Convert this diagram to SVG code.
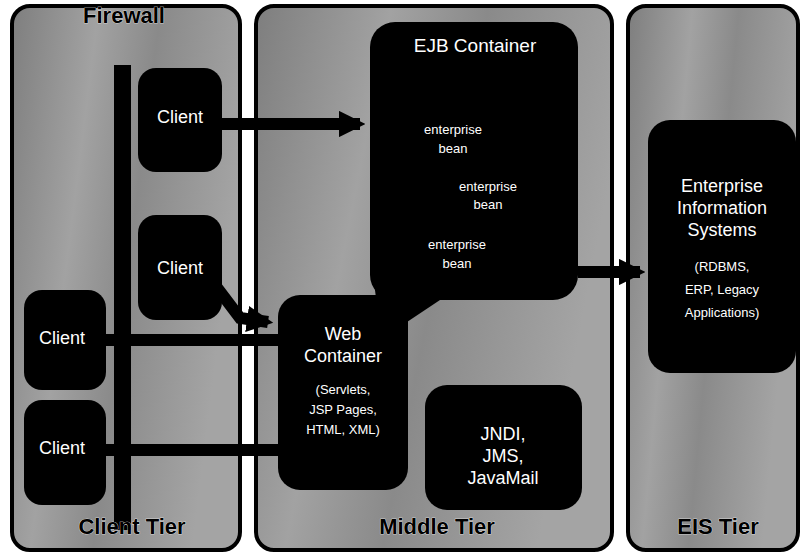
<svg xmlns="http://www.w3.org/2000/svg" width="802" height="556" viewBox="0 0 802 556">
<defs>
<linearGradient id="g1" x1="0" y1="0" x2="1" y2="0.3">
<stop offset="0" stop-color="#7e7e7e"/><stop offset="0.35" stop-color="#a2a2a2"/><stop offset="0.6" stop-color="#8a8a8a"/><stop offset="1" stop-color="#a4a4a4"/>
</linearGradient>
<marker id="ah" viewBox="0 0 10 10" refX="8" refY="5" markerWidth="2.2" markerHeight="2.2" orient="auto" markerUnits="strokeWidth">
<path d="M0,0 L10,5 L0,10 z" fill="#000"/>
</marker>
</defs>
<style>
.panel{fill:url(#g1);stroke:#000;stroke-width:4}
.box{fill:#000}
.t{font-family:"Liberation Sans",Arial,sans-serif;fill:#fff;text-anchor:middle}
.big{font-size:18px}
.sm{font-size:13px}
.lbl{font-family:"Liberation Sans",Arial,sans-serif;font-weight:bold;fill:#000;text-anchor:middle;font-size:22px;stroke:#fff;stroke-width:0.6;paint-order:stroke}
.conn{stroke:#000;stroke-width:12;fill:none}
</style>
<rect width="802" height="556" fill="#fff"/>
<g id="client-tier">
<rect class="panel" x="12" y="6" width="228" height="544" rx="18"/>
<text class="lbl" x="124" y="23" font-size="17">Firewall</text>
<rect id="firewall" x="114" y="65" width="17" height="465" fill="#000"/>
<text class="lbl" x="132" y="534">Client Tier</text>
</g>
<g id="middle-tier">
<rect class="panel" x="256" y="6" width="356" height="544" rx="18"/>
<text class="lbl" x="437" y="534">Middle Tier</text>
</g>
<g id="eis-tier">
<rect class="panel" x="628" y="6" width="170" height="544" rx="18"/>
<text class="lbl" x="718" y="534">EIS Tier</text>
</g>
<g id="connectors">
<line class="conn" x1="222" y1="124" x2="360" y2="124" marker-end="url(#ah)"/>
<polyline class="conn" points="215,285 240,318 268,322" marker-end="url(#ah)"/>
<line class="conn" x1="105" y1="340" x2="278" y2="340"/>
<line class="conn" x1="105" y1="450" x2="278" y2="450"/>
<polygon points="375,290 410,290 440,300 395,330 380,330" fill="#000"/>
<line class="conn" x1="578" y1="272" x2="640" y2="272" marker-end="url(#ah)"/>
</g>
<g id="client1"><rect class="box" x="138" y="68" width="84" height="104" rx="18"/><text class="t big" x="180" y="123">Client</text></g>
<g id="client2"><rect class="box" x="138" y="215" width="84" height="105" rx="18"/><text class="t big" x="180" y="274">Client</text></g>
<g id="client3"><rect class="box" x="24" y="290" width="82" height="100" rx="18"/><text class="t big" x="62" y="344">Client</text></g>
<g id="client4"><rect class="box" x="24" y="400" width="82" height="105" rx="18"/><text class="t big" x="62" y="454">Client</text></g>
<g id="ejb">
<rect class="box" x="370" y="22" width="208" height="278" rx="25"/>
<text class="t" x="475" y="52" font-size="19">EJB Container</text>
<text class="t sm" x="453" y="134">enterprise</text><text class="t sm" x="453" y="153">bean</text>
<text class="t sm" x="488" y="191">enterprise</text><text class="t sm" x="488" y="209">bean</text>
<text class="t sm" x="457" y="249">enterprise</text><text class="t sm" x="457" y="268">bean</text>
</g>
<g id="web">
<rect class="box" x="278" y="295" width="130" height="195" rx="22"/>
<text class="t big" x="343" y="340">Web</text>
<text class="t big" x="343" y="362">Container</text>
<text class="t sm" x="343" y="394">(Servlets,</text>
<text class="t sm" x="343" y="414">JSP Pages,</text>
<text class="t sm" x="343" y="434">HTML, XML)</text>
</g>
<g id="jndi">
<rect class="box" x="425" y="385" width="157" height="125" rx="22"/>
<text class="t big" x="503" y="440">JNDI,</text>
<text class="t big" x="503" y="462">JMS,</text>
<text class="t big" x="503" y="484">JavaMail</text>
</g>
<g id="eis">
<rect class="box" x="648" y="120" width="148" height="253" rx="22"/>
<text class="t big" x="722" y="192">Enterprise</text>
<text class="t big" x="722" y="214">Information</text>
<text class="t big" x="722" y="236">Systems</text>
<text class="t sm" x="722" y="271">(RDBMS,</text>
<text class="t sm" x="722" y="294">ERP, Legacy</text>
<text class="t sm" x="722" y="317">Applications)</text>
</g>
</svg>
